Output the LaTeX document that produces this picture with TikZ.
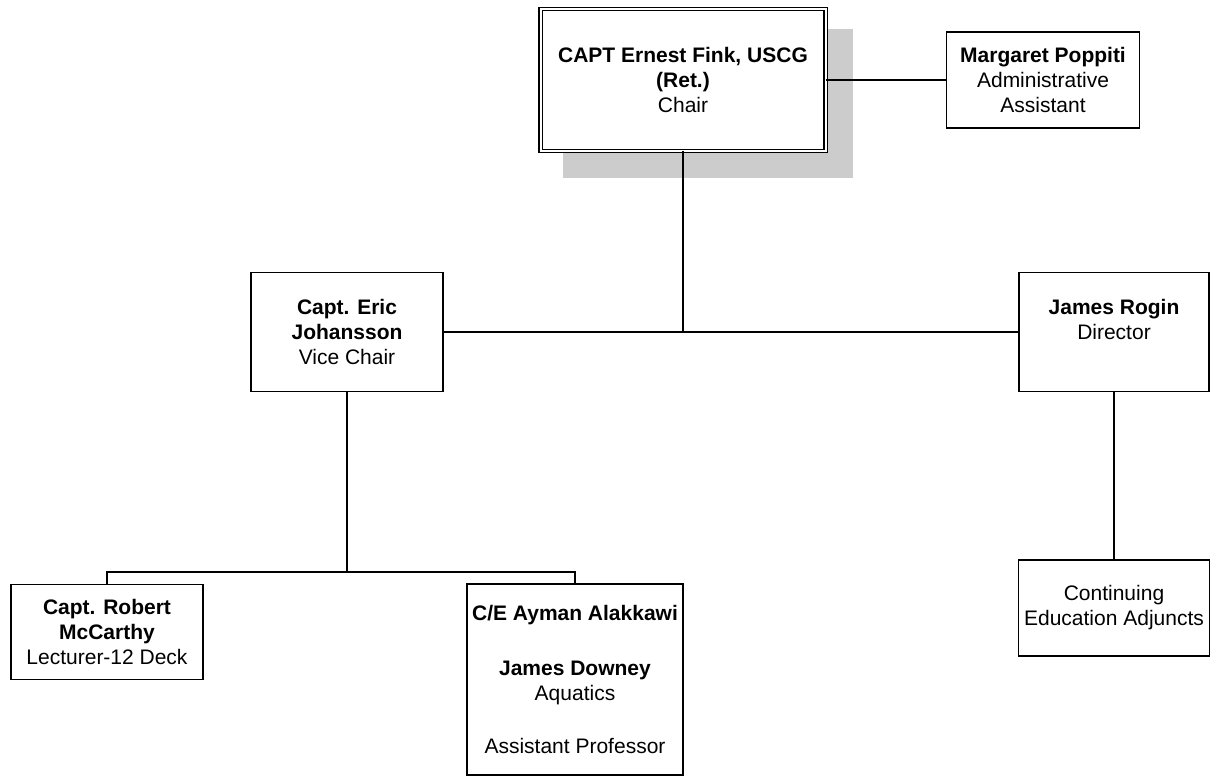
\documentclass[tikz,border=0pt]{standalone}
\usepackage{fontspec}
\setmainfont{Liberation Sans}
\usetikzlibrary{backgrounds}
\definecolor{shadowgray}{RGB}{204,204,204}
\begin{document}
\begin{tikzpicture}[x=1pt,y=-1pt,
  box/.style={draw, line width=1.6pt, inner sep=0pt, outer sep=0pt, fill=white,
    align=center, font=\fontsize{21}{25}\selectfont},
  chairbox/.style={box, double, double distance=2pt, line width=1.3pt},
  conn/.style={line width=1.8pt}]
\useasboundingbox (0,0) rectangle (1211,777);

\node[chairbox, minimum width=285pt, minimum height=142pt] (chair) at (683,80)
  {\textbf{CAPT Ernest Fink, USCG}\\\textbf{(Ret.)}\\Chair};
\node[box, minimum width=193pt, minimum height=96pt] (margaret) at (1043,80)
  {\textbf{Margaret Poppiti}\\Administrative\\Assistant};
\node[box, minimum width=192pt, minimum height=119pt] (eric) at (347,332)
  {\textbf{Capt. Eric}\\\textbf{Johansson}\\Vice Chair};
\node[box, minimum width=190pt, minimum height=119pt] (rogin) at (1114,332)
  {\textbf{James Rogin}\\Director\\\mbox{}};
\node[box, minimum width=192pt, minimum height=95pt] (robert) at (107,632)
  {\textbf{Capt. Robert}\\\textbf{McCarthy}\\Lecturer-12 Deck};
\node[box, minimum width=216pt, minimum height=191pt] (ayman) at (575,679.5)
  {\textbf{C/E Ayman Alakkawi}\\[30pt]\textbf{James Downey}\\Aquatics\\[28pt]Assistant Professor};
\node[box, minimum width=191pt, minimum height=96pt] (cont) at (1114,608)
  {Continuing\\Education Adjuncts};

\begin{scope}[on background layer]
  \fill[shadowgray] ([shift={(22,20)}]chair.north west) rectangle ([shift={(27,27)}]chair.south east);
\end{scope}

\coordinate (bus) at (347,572);

\draw[conn] (chair.east) -- (margaret.west);
\draw[conn] (eric.east) -- (rogin.west);
\draw[conn] (chair.south) -- (chair.south |- eric.east);
\draw[conn] (eric.south) -- (bus);
\draw[conn] (robert.north) |- (bus) -| (ayman.north);
\draw[conn] (rogin.south) -- (cont.north);
\end{tikzpicture}
\end{document}
